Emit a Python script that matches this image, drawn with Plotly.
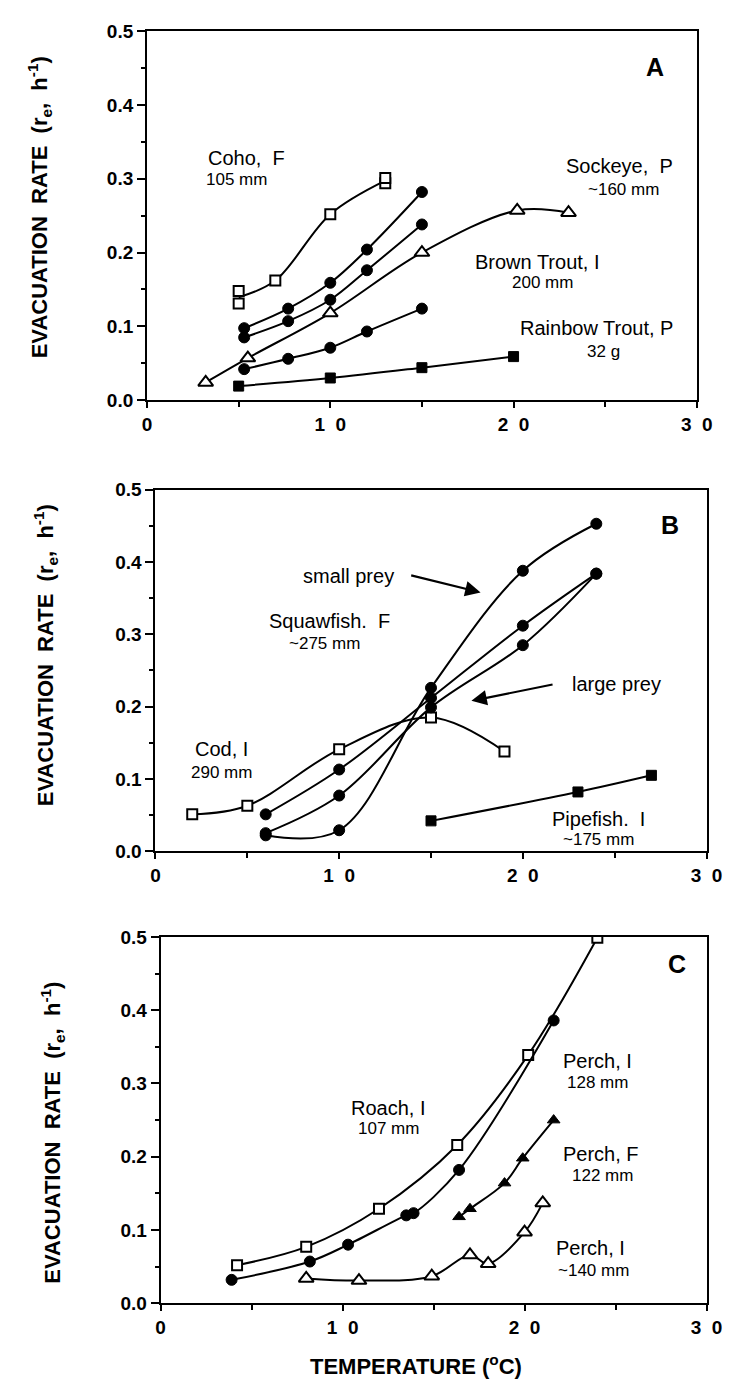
import plotly.graph_objects as go
import pandas as pd

FONT = "Liberation Sans"

# ---------------- Panel A ----------------
coho_t = [5, 5, 7, 10, 13, 13]
coho_r = [0.131, 0.148, 0.162, 0.252, 0.294, 0.301]
brown_t = [5.3, 7.7, 10, 12, 15]
brown1_r = [0.0975, 0.124, 0.159, 0.204, 0.282]
brown2_r = [0.085, 0.107, 0.136, 0.176, 0.238]
brown3_r = [0.042, 0.056, 0.071, 0.093, 0.124]
sockeye_t = [3.2, 5.5, 10, 15, 20.2, 23]
sockeye_r = [0.024, 0.057, 0.118, 0.200, 0.257, 0.254]
rainbow_t = [5, 10, 15, 20]
rainbow_r = [0.019, 0.030, 0.044, 0.059]

# ---------------- Panel B ----------------
cod_t = [2, 5, 10, 15, 19]
cod_r = [0.051, 0.063, 0.141, 0.185, 0.138]
squaw_t = [6, 10, 15, 20, 24]
squaw_small_r = [0.022, 0.029, 0.226, 0.388, 0.453]
squaw_large1_r = [0.051, 0.113, 0.212, 0.312, 0.384]
squaw_large2_r = [0.025, 0.077, 0.199, 0.285, 0.384]
pipe_t = [15, 23, 27]
pipe_r = [0.042, 0.082, 0.105]

# ---------------- Panel C ----------------
roach_t = [4.2, 8.0, 12.0, 16.3, 20.2, 24.0]
roach_r = [0.052, 0.077, 0.129, 0.216, 0.339, 0.499]
perch128_t = [3.9, 8.2, 10.3, 13.5, 13.9, 16.4, 21.6]
perch128_r = [0.032, 0.057, 0.080, 0.120, 0.123, 0.182, 0.386]
perchF_t = [16.4, 17.0, 18.9, 19.9, 21.6]
perchF_r = [0.118, 0.129, 0.164, 0.198, 0.250]
perch140_t = [8.0, 10.9, 14.9, 17.0, 18.0, 20.0, 21.0]
perch140_r = [0.034, 0.031, 0.037, 0.066, 0.054, 0.097, 0.137]

x_tickvals = [0, 10, 20, 30]
x_ticktext = ["0", "1\u00a0\u00a00", "2\u00a0\u00a00", "3\u00a0\u00a00"]
y_tickvals = [0, 0.1, 0.2, 0.3, 0.4, 0.5]
y_ticktext = ["0.0", "0.1", "0.2", "0.3", "0.4", "0.5"]

W, H = 732, 1391

fig = go.Figure()

MARK = {
    "osq": dict(symbol="square", size=10, color="white", line=dict(color="black", width=2)),
    "fsq": dict(symbol="square", size=10, color="black", line=dict(color="black", width=1)),
    "fci": dict(symbol="circle", size=11, color="black", line=dict(color="black", width=1)),
    "otr": dict(symbol="triangle-up", size=13, color="white", line=dict(color="black", width=2)),
    "ftr": dict(symbol="triangle-up", size=11, color="black", line=dict(color="black", width=1)),
}


def add_series(t, r, mk, xa, ya):
    df = pd.DataFrame({"t": t, "r": r})
    ln = df.groupby("t", sort=True)["r"].mean().reset_index()
    fig.add_trace(go.Scatter(x=ln["t"], y=ln["r"], mode="lines",
                             line=dict(color="black", width=2, shape="spline", smoothing=1.0),
                             xaxis=xa, yaxis=ya, showlegend=False, hoverinfo="skip"))
    fig.add_trace(go.Scatter(x=t, y=r, mode="markers", marker=MARK[mk],
                             xaxis=xa, yaxis=ya, showlegend=False))


# Panel A
add_series(coho_t, coho_r, "osq", "x", "y")
add_series(brown_t, brown1_r, "fci", "x", "y")
add_series(brown_t, brown2_r, "fci", "x", "y")
add_series(brown_t, brown3_r, "fci", "x", "y")
add_series(sockeye_t, sockeye_r, "otr", "x", "y")
add_series(rainbow_t, rainbow_r, "fsq", "x", "y")

# Panel B
add_series(cod_t, cod_r, "osq", "x2", "y2")
add_series(squaw_t, squaw_small_r, "fci", "x2", "y2")
add_series(squaw_t, squaw_large1_r, "fci", "x2", "y2")
add_series(squaw_t, squaw_large2_r, "fci", "x2", "y2")
add_series(pipe_t, pipe_r, "fsq", "x2", "y2")

# Panel C
add_series(roach_t, roach_r, "osq", "x3", "y3")
add_series(perch128_t, perch128_r, "fci", "x3", "y3")
add_series(perchF_t, perchF_r, "ftr", "x3", "y3")
add_series(perch140_t, perch140_r, "otr", "x3", "y3")

# pixel boxes (left, right, top, bottom)
boxes = [(138, 704, 13.3, 388), (146.7, 714, 479, 846), (152, 714, 933, 1305)]


def xaxis(box, anchor):
    l, r, t, b = box
    return dict(domain=[l / W, r / W], range=[0, 30], anchor=anchor,
                showgrid=False, zeroline=False, showline=True, linecolor="black",
                linewidth=2, mirror=True, ticks="outside", ticklen=6, tickwidth=2,
                tickcolor="black", tickvals=x_tickvals, ticktext=x_ticktext,
                ticklabelstandoff=0,
                tickfont=dict(family=FONT, size=19, color="black", weight="bold"),
                minor=dict(tickvals=[5, 15, 25], ticks="outside", ticklen=5,
                           tickwidth=2, tickcolor="black"))


def yaxis(box, anchor):
    l, r, t, b = box
    return dict(domain=[1 - b / H, 1 - t / H], range=[0, 0.5], anchor=anchor,
                showgrid=False, zeroline=False, showline=True, linecolor="black",
                linewidth=2, mirror=True, ticks="outside", ticklen=8, tickwidth=2,
                tickcolor="black", tickvals=y_tickvals, ticktext=y_ticktext,
                tickfont=dict(family=FONT, size=19, color="black", weight="bold"),
                minor=dict(tickvals=[0.05, 0.15, 0.25, 0.35, 0.45], ticks="outside",
                           ticklen=4, tickwidth=2, tickcolor="black"))


fig.update_layout(
    width=W, height=H,
    margin=dict(l=0, r=0, t=0, b=0),
    paper_bgcolor="white", plot_bgcolor="white",
    xaxis=xaxis(boxes[0], "y"), yaxis=yaxis(boxes[0], "x"),
    xaxis2=xaxis(boxes[1], "y2"), yaxis2=yaxis(boxes[1], "x2"),
    xaxis3=xaxis(boxes[2], "y3"), yaxis3=yaxis(boxes[2], "x3"),
    font=dict(family=FONT, color="black"),
)

BIG = dict(family=FONT, size=20, color="black")
SMALL = dict(family=FONT, size=17, color="black")
LETTER = dict(family=FONT, size=25, color="black", weight="bold")

labels = [
    # panel A
    ("x", "y", 5.4, 0.328, "Coho,\u00a0 F", BIG),
    ("x", "y", 4.9, 0.299, "105 mm", SMALL),
    ("x", "y", 25.8, 0.317, "Sockeye,\u00a0 P", BIG),
    ("x", "y", 26.0, 0.285, "~160 mm", SMALL),
    ("x", "y", 21.3, 0.187, "Brown Trout, I", BIG),
    ("x", "y", 21.6, 0.159, "200 mm", SMALL),
    ("x", "y", 24.5, 0.0975, "Rainbow Trout, P", BIG),
    ("x", "y", 24.9, 0.066, "32 g", SMALL),
    ("x", "y", 27.7, 0.451, "A", LETTER),
    # panel B
    ("x2", "y2", 10.5, 0.381, "small prey", BIG),
    ("x2", "y2", 9.5, 0.319, "Squawfish.\u00a0 F", BIG),
    ("x2", "y2", 9.2, 0.288, "~275 mm", SMALL),
    ("x2", "y2", 25.1, 0.231, "large prey", BIG),
    ("x2", "y2", 3.6, 0.141, "Cod, I", BIG),
    ("x2", "y2", 3.6, 0.109, "290 mm", SMALL),
    ("x2", "y2", 24.1, 0.044, "Pipefish.\u00a0 I", BIG),
    ("x2", "y2", 24.1, 0.016, "~175 mm", SMALL),
    ("x2", "y2", 28.0, 0.451, "B", LETTER),
    # panel C
    ("x3", "y3", 12.5, 0.266, "Roach, I", BIG),
    ("x3", "y3", 12.5, 0.238, "107 mm", SMALL),
    ("x3", "y3", 24.0, 0.331, "Perch, I", BIG),
    ("x3", "y3", 24.0, 0.302, "128 mm", SMALL),
    ("x3", "y3", 24.2, 0.204, "Perch, F", BIG),
    ("x3", "y3", 24.3, 0.175, "122 mm", SMALL),
    ("x3", "y3", 23.6, 0.076, "Perch, I", BIG),
    ("x3", "y3", 23.8, 0.045, "~140 mm", SMALL),
    ("x3", "y3", 28.4, 0.463, "C", LETTER),
]
for xr, yr, xv, yv, txt, f in labels:
    fig.add_annotation(x=xv, y=yv, xref=xr, yref=yr, text=txt, showarrow=False,
                       font=f, xanchor="center", yanchor="middle")

# arrows in panel B
arrows = [((13.84, 0.382), (17.7, 0.358)), ((21.7, 0.231), (17.2, 0.208))]
for (tx, ty), (hx, hy) in arrows:
    fig.add_annotation(x=hx, y=hy, ax=tx, ay=ty, xref="x2", yref="y2",
                       axref="x2", ayref="y2", text="", showarrow=True,
                       arrowhead=2, arrowsize=1.4, arrowwidth=2.2, arrowcolor="black")

# y-axis titles
ytitle = "EVACUATION\u00a0 RATE\u00a0 (r<sub>e</sub>,\u00a0 h<sup>-1</sup>)"
for cx, cy in [(27, 192), (33, 647), (41, 1132)]:
    fig.add_annotation(x=cx / W, y=1 - cy / H, xref="paper", yref="paper",
                       text=ytitle, textangle=-90, showarrow=False,
                       font=dict(family=FONT, size=22, color="black", weight="bold"),
                       xanchor="center", yanchor="middle")

fig.add_annotation(x=415 / W, y=1 - 1368 / H, xref="paper", yref="paper",
                   text="TEMPERATURE (<sup>o</sup>C)", showarrow=False,
                   font=dict(family=FONT, size=22, color="black", weight="bold"),
                   xanchor="center", yanchor="middle")

fig.write_html("out.html")
